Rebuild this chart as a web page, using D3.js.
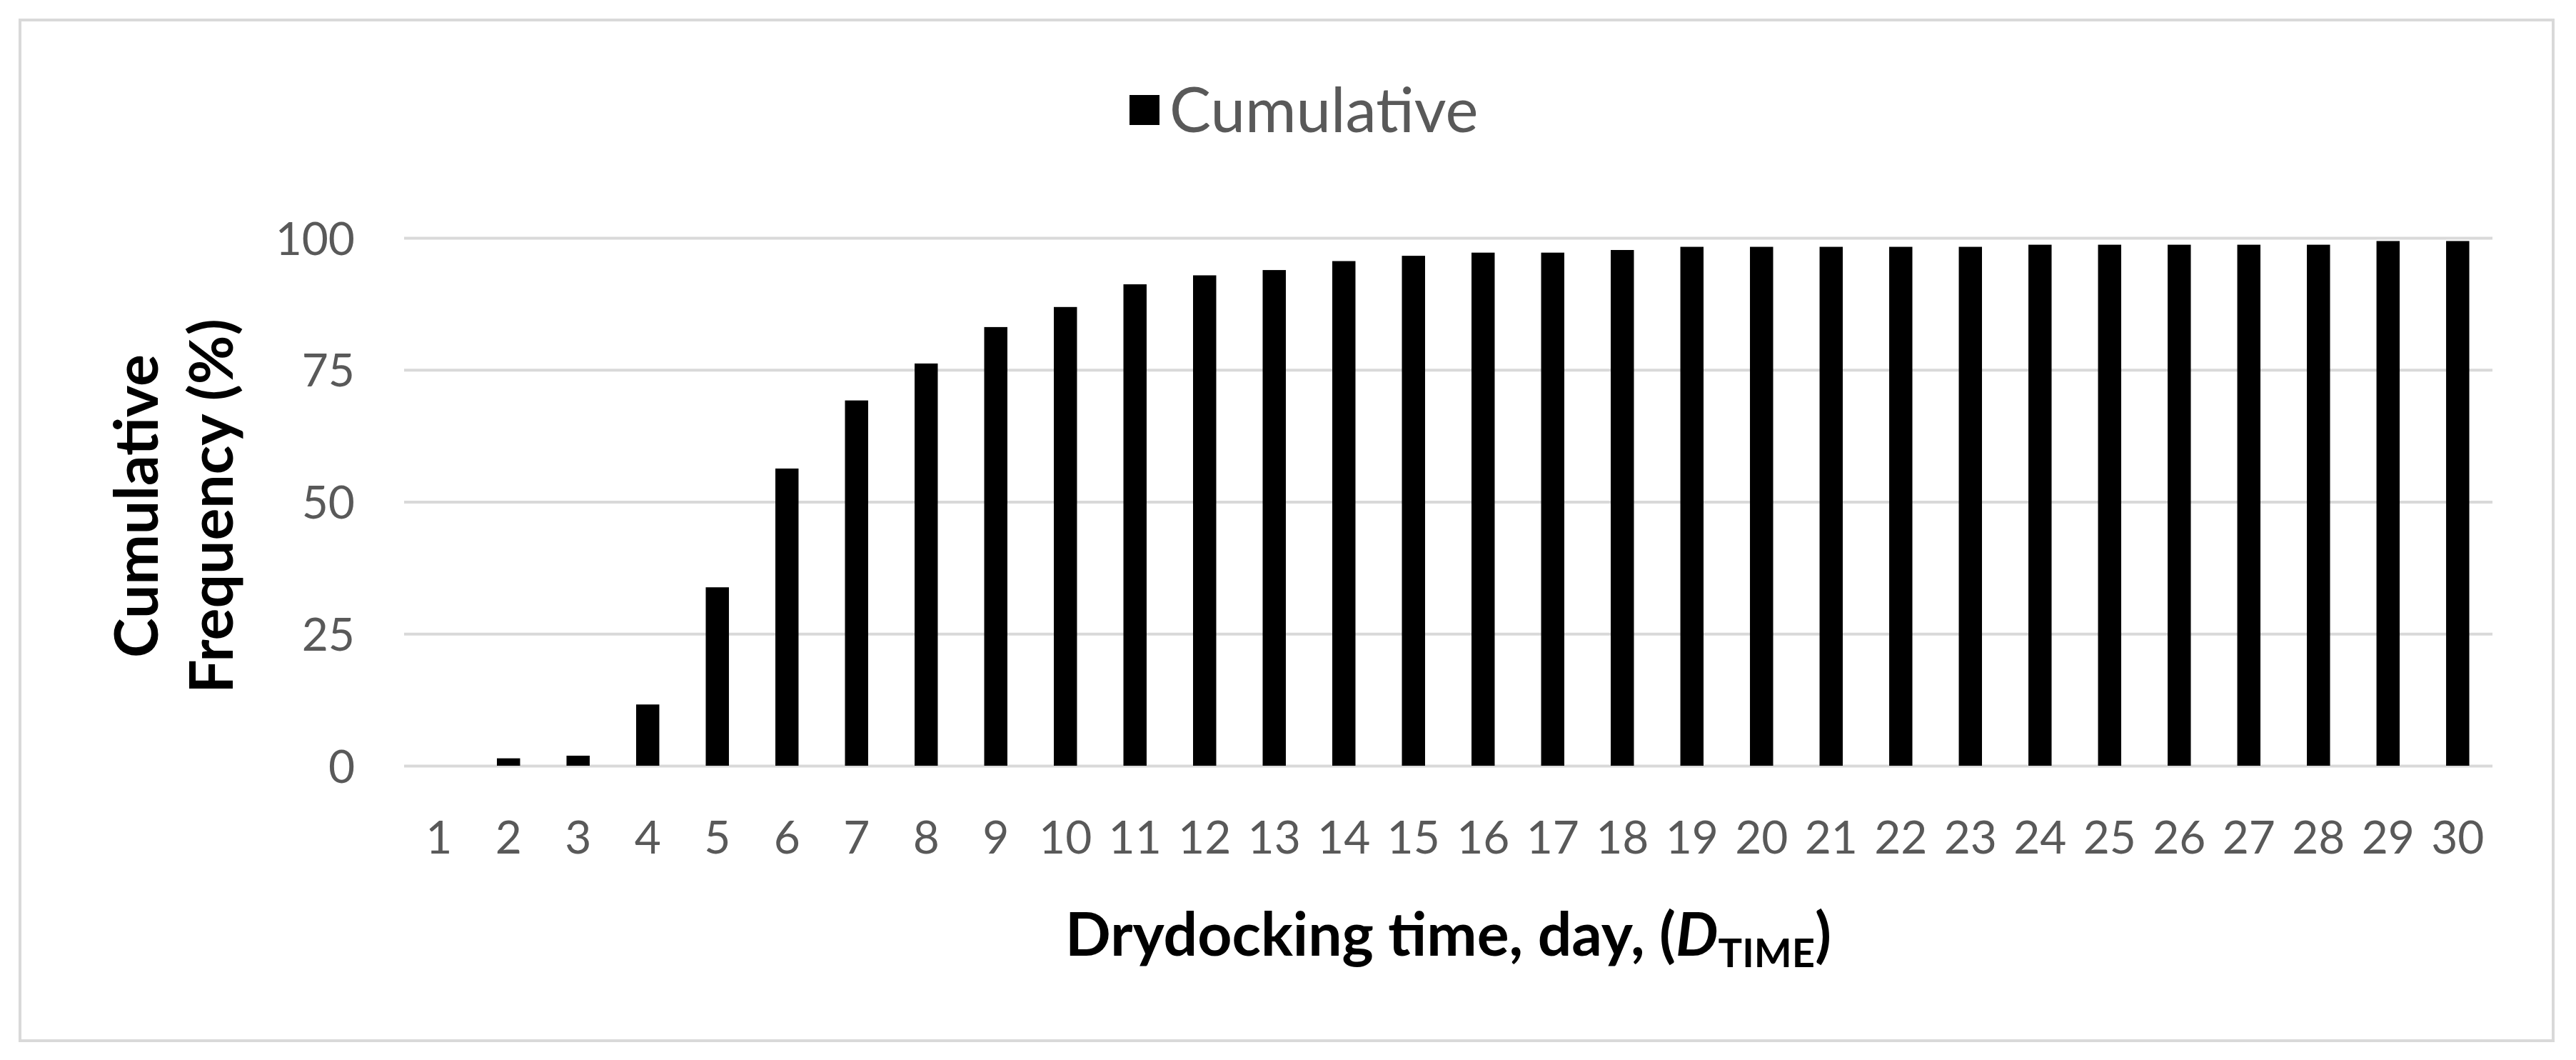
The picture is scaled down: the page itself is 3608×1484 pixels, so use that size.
<!DOCTYPE html>
<html>
<head>
<meta charset="utf-8">
<script src="https://cdn.jsdelivr.net/npm/d3@7"></script>
<style>
  body { margin: 0; background: #fff; }
  text { font-family: Lato, "Open Sans", sans-serif; }
</style>
</head>
<body>
<svg width="3608" height="1484"></svg>
<script>
// drydocking days and cumulative frequency (%)
var days = ["1", "2", "3", "4", "5", "6", "7", "8", "9", "10",
            "11", "12", "13", "14", "15", "16", "17", "18", "19", "20",
            "21", "22", "23", "24", "25", "26", "27", "28", "29", "30"];
var cumulative = [0, 1.4, 1.9, 11.6, 33.8, 56.3, 69.2, 76.2, 83.1, 86.9,
                  91.2, 92.9, 93.9, 95.6, 96.6, 97.2, 97.2, 97.7, 98.3, 98.3,
                  98.3, 98.3, 98.3, 98.7, 98.7, 98.7, 98.7, 98.7, 99.4, 99.4];
var yTicks = [0, 25, 50, 75, 100];
var seriesName = "Cumulative";

var svg = d3.select("svg"),
    width = +svg.attr("width"),
    height = +svg.attr("height");

var plot = { left: 566, right: 3491, top: 333, bottom: 1072 };

// chart frame
svg.append("rect")
    .attr("x", 28).attr("y", 28)
    .attr("width", 3548).attr("height", 1429)
    .attr("fill", "#fff")
    .attr("stroke", "#d9d9d9")
    .attr("stroke-width", 4);

var x = d3.scaleBand()
    .domain(days)
    .range([plot.left, plot.right])
    .paddingInner(0.667)
    .paddingOuter(0.333);

var y = d3.scaleLinear()
    .domain([0, 100])
    .range([plot.bottom, plot.top]);

// gridlines + y labels
var yAxis = svg.append("g")
    .attr("transform", "translate(" + plot.left + ",0)")
    .call(d3.axisLeft(y).tickValues(yTicks).tickSize(-(plot.right - plot.left)).tickPadding(69));

yAxis.select(".domain").remove();
yAxis.selectAll(".tick line")
    .attr("stroke", "#d9d9d9")
    .attr("stroke-width", 4);
yAxis.selectAll(".tick text")
    .attr("fill", "#595959")
    .attr("font-size", 64)
    .attr("dy", "0.36em");

// bars
svg.append("g")
  .selectAll("rect")
  .data(cumulative)
  .enter().append("rect")
    .attr("x", function(d, i) { return x(days[i]); })
    .attr("y", function(d) { return y(d); })
    .attr("width", x.bandwidth())
    .attr("height", function(d) { return y(0) - y(d); })
    .attr("fill", "#000");

// x labels
var xAxis = svg.append("g")
    .attr("transform", "translate(0," + plot.bottom + ")")
    .call(d3.axisBottom(x).tickSize(0));

xAxis.select(".domain").remove();
xAxis.selectAll(".tick text")
    .attr("fill", "#595959")
    .attr("font-size", 64)
    .attr("dy", "0.36em")
    .attr("y", 100);

// legend
var legend = svg.append("g")
    .attr("transform", "translate(1582,154)");

legend.append("rect")
    .attr("x", 0).attr("y", -21)
    .attr("width", 42).attr("height", 42)
    .attr("fill", "#000");

legend.append("text")
    .attr("x", 56)
    .attr("dy", "0.36em")
    .attr("fill", "#595959")
    .attr("font-size", 87)
    .text(seriesName);

// x axis title
var xTitle = svg.append("text")
    .attr("x", (plot.left + plot.right) / 2)
    .attr("y", 1338)
    .attr("text-anchor", "middle")
    .attr("font-size", 84)
    .attr("font-weight", "bold")
    .attr("fill", "#000");

xTitle.append("tspan").text("Drydocking time, day, (");
xTitle.append("tspan").attr("font-style", "italic").text("D");
xTitle.append("tspan").attr("font-size", 56).attr("dy", 16).text("TIME");
xTitle.append("tspan").attr("dy", -16).text(")");

// y axis title (two lines)
var yTitle = svg.append("text")
    .attr("transform", "translate(0," + ((plot.top + plot.bottom) / 2 + 6) + ") rotate(-90)")
    .attr("text-anchor", "middle")
    .attr("font-size", 84)
    .attr("font-weight", "bold")
    .attr("fill", "#000");

yTitle.append("tspan").attr("x", 0).attr("y", 221).text("Cumulative");
yTitle.append("tspan").attr("x", 0).attr("y", 326).text("Frequency (%)");
</script>
</body>
</html>
